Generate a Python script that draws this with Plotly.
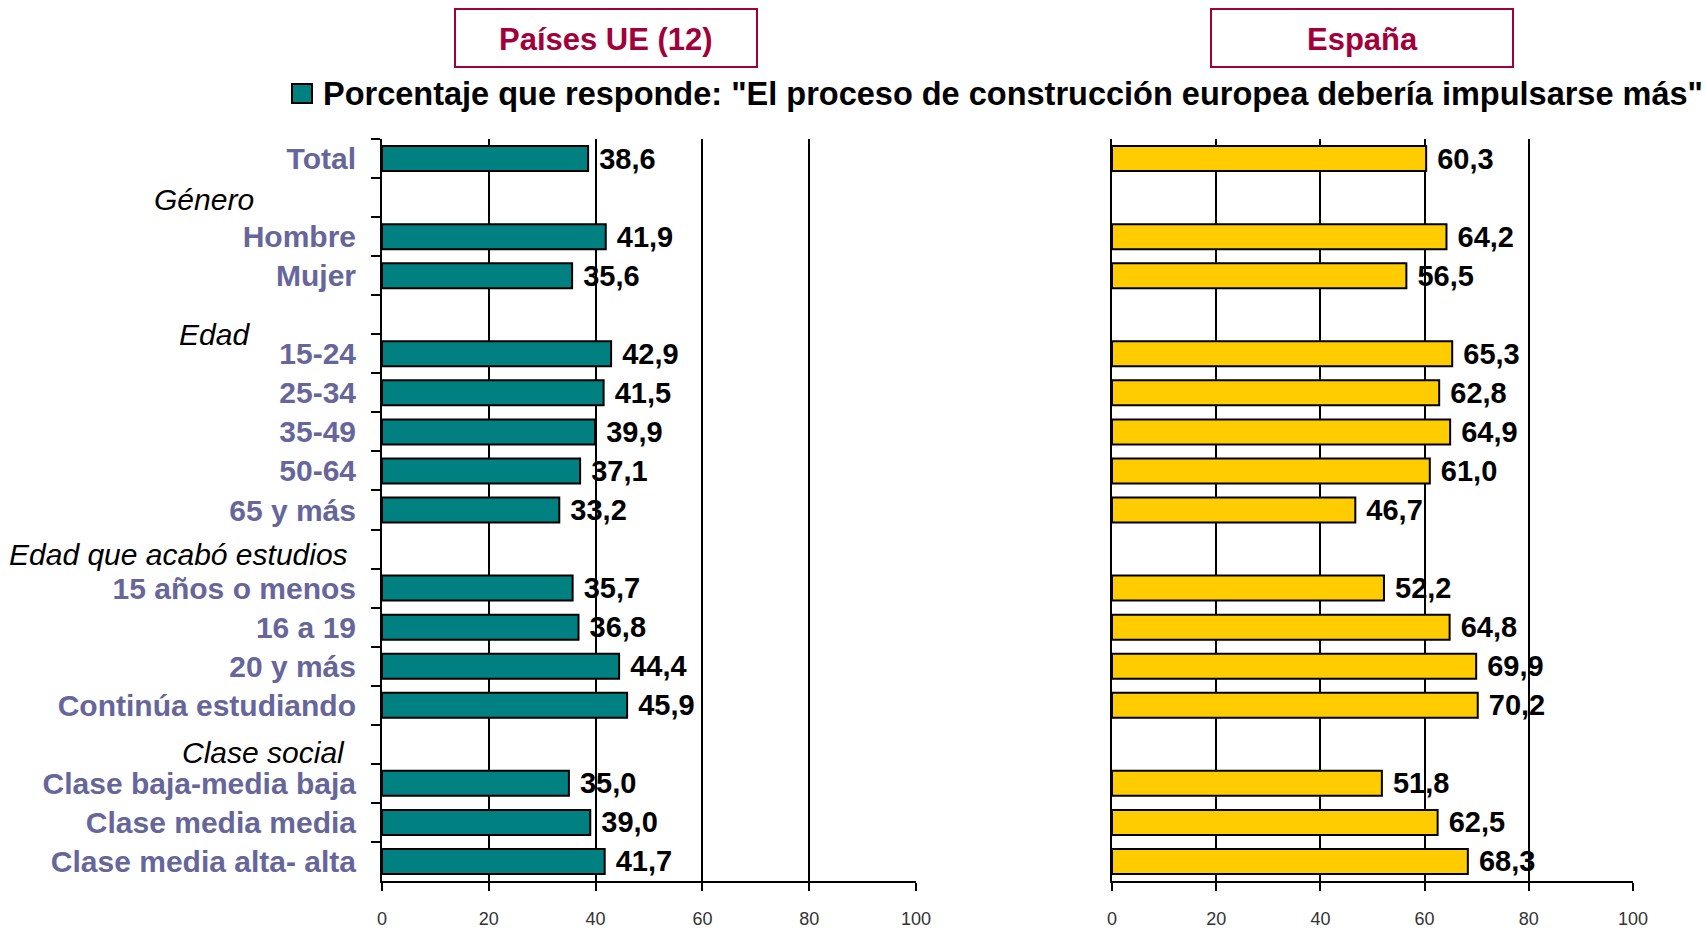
import plotly.graph_objects as go

W, H = 1706, 931

categories = ["Total", " ", "Hombre", "Mujer", "  ", "15-24", "25-34", "35-49", "50-64",
              "65 y más", "   ", "15 años o menos", "16 a 19", "20 y más",
              "Continúa estudiando", "    ", "Clase baja-media baja", "Clase media media",
              "Clase media alta- alta"]
ue_values = [38.6, None, 41.9, 35.6, None, 42.9, 41.5, 39.9, 37.1, 33.2, None,
             35.7, 36.8, 44.4, 45.9, None, 35.0, 39.0, 41.7]
es_values = [60.3, None, 64.2, 56.5, None, 65.3, 62.8, 64.9, 61.0, 46.7, None,
             52.2, 64.8, 69.9, 70.2, None, 51.8, 62.5, 68.3]
group_headers = ["Género", "Edad", "Edad que acabó estudios", "Clase social"]
panel_titles = ["Países UE (12)", "España"]
legend_text = 'Porcentaje que responde: "El proceso de construcción europea debería impulsarse más"'
x_ticks = [0, 20, 40, 60, 80, 100]

FONT = "Liberation Sans, Arial, sans-serif"
TEAL = "#008080"
YELLOW = "#FFCC00"
CRIMSON = "#A1003A"
LABEL = "#66669A"


def px(x):
    return x / W


def py(y):
    return 1 - y / H


def fmt(v):
    return "" if v is None else "\u00a0" + f"{v:.1f}".replace(".", ",")


fig = go.Figure()
fig.add_trace(go.Bar(
    y=categories, x=ue_values, orientation="h",
    marker=dict(color=TEAL, line=dict(color="black", width=2)),
    text=[fmt(v) for v in ue_values], textposition="outside", constraintext="none",
    textfont=dict(family=FONT, size=29, color="black", weight="bold"),
    xaxis="x", yaxis="y", showlegend=False, cliponaxis=False,
))
fig.add_trace(go.Bar(
    y=categories, x=es_values, orientation="h",
    marker=dict(color=YELLOW, line=dict(color="black", width=2)),
    text=[fmt(v) for v in es_values], textposition="outside", constraintext="none",
    textfont=dict(family=FONT, size=29, color="black", weight="bold"),
    xaxis="x2", yaxis="y2", showlegend=False, cliponaxis=False,
))

ydom = [py(881), py(139)]
xcommon = dict(range=[0, 100], tickvals=x_ticks, showgrid=True, gridcolor="black", gridwidth=2,
               zeroline=False, showline=True, linecolor="black", linewidth=2,
               ticks="outside", ticklen=8, tickwidth=2, tickcolor="black",
               ticklabelstandoff=12, automargin=False,
               tickfont=dict(family=FONT, size=18, color="#333333"))
ycommon = dict(categoryorder="array", categoryarray=categories, type="category",
               range=[18.5, -0.5], domain=ydom, showgrid=False, zeroline=False,
               showline=True, linecolor="black", linewidth=2, automargin=False)

fig.update_layout(
    width=W, height=H, autosize=False, margin=dict(l=0, r=0, t=0, b=0, pad=0, autoexpand=False),
    paper_bgcolor="white", plot_bgcolor="white",
    bargap=0.36,
    xaxis=dict(domain=[px(382), px(916)], anchor="y", **xcommon),
    xaxis2=dict(domain=[px(1112), px(1633)], anchor="y2", **xcommon),
    yaxis=dict(anchor="x", ticks="outside", tickson="boundaries", ticklen=9, tickwidth=2,
               tickcolor="black", ticklabelstandoff=18,
               tickfont=dict(family=FONT, size=30, color=LABEL, weight="bold"), **ycommon),
    yaxis2=dict(anchor="x2", showticklabels=False, ticks="", **ycommon),
    font=dict(family=FONT),
)

# group header annotations (italic)
header_pos = [(256, 1.05), (252, 4.5), (350, 10.13), (347, 15.2)]
for text, (xr, yv) in zip(group_headers, header_pos):
    fig.add_annotation(x=px(xr), xref="paper", y=yv, yref="y", text=text, showarrow=False,
                       xanchor="right", yanchor="middle",
                       font=dict(family=FONT, size=30, color="black", style="italic"))

# panel title boxes
boxes = [(455, 757), (1211, 1513)]
for text, (x0, x1) in zip(panel_titles, boxes):
    fig.add_shape(type="rect", xref="paper", yref="paper", x0=px(x0), x1=px(x1),
                  y0=py(67), y1=py(9), line=dict(color=CRIMSON, width=2), fillcolor="white")
    fig.add_annotation(x=px((x0 + x1) / 2), y=py(39), xref="paper", yref="paper", text=text,
                       showarrow=False, xanchor="center", yanchor="middle",
                       font=dict(family=FONT, size=31, color=CRIMSON, weight="bold"))

# legend
fig.add_shape(type="rect", xref="paper", yref="paper", x0=px(292), x1=px(312),
              y0=py(103), y1=py(84), line=dict(color="black", width=2), fillcolor=TEAL)
fig.add_annotation(x=px(321), y=py(94), xref="paper", yref="paper", text=legend_text,
                   showarrow=False, xanchor="left", yanchor="middle",
                   font=dict(family=FONT, size=32.5, color="black", weight="bold"))

fig.write_html(
    "out.html",
    config={"displayModeBar": False, "responsive": False},
    post_script="document.documentElement.style.overflow='hidden';"
                "document.body.style.margin='0';document.body.style.overflow='hidden';",
)
